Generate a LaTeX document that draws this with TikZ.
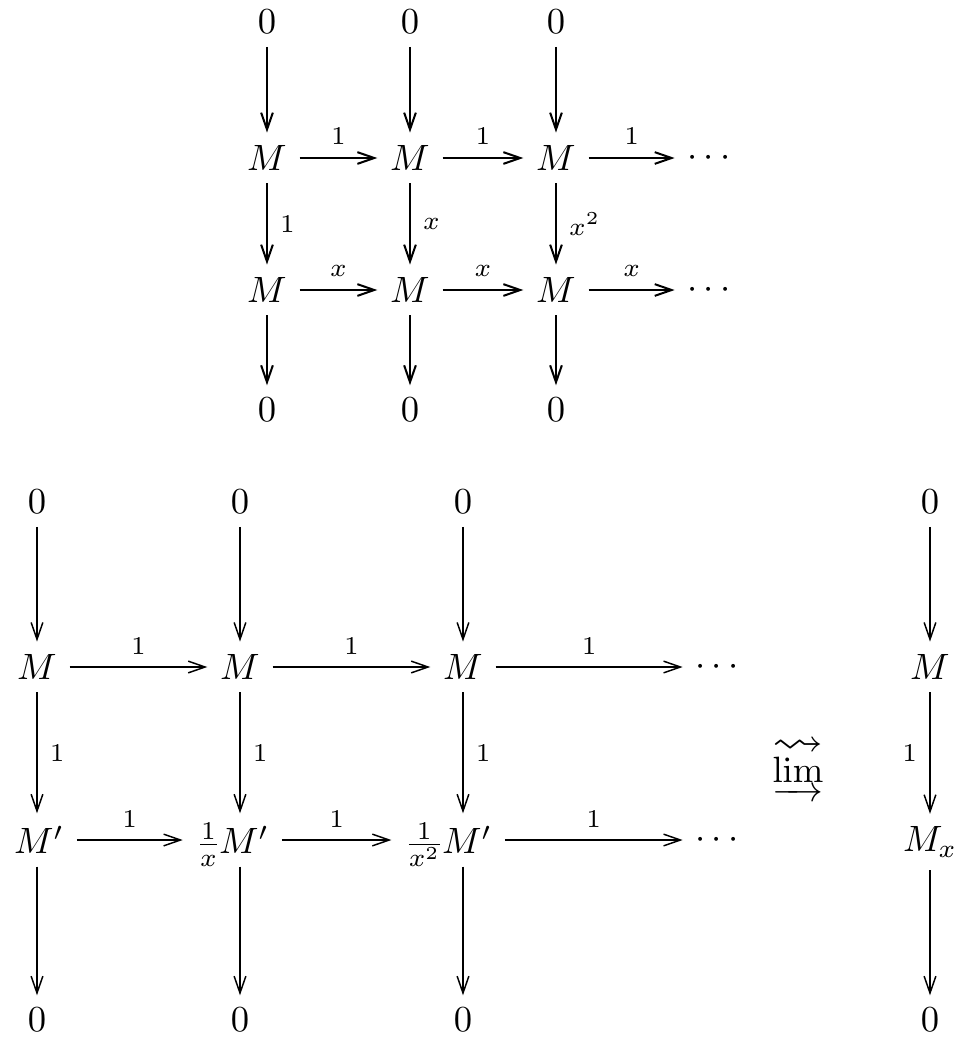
\documentclass[tikz,border=0pt]{standalone}
\usepackage{amsmath}
\usepackage{amssymb}
\usetikzlibrary{arrows.meta, positioning}

\tikzset{
  mapto/.style={-{Straight Barb[length=4.6pt,width=3.2pt]}},
  topmap/.style={mapto, line width=0.55pt},
  botmap/.style={mapto, line width=0.4pt},
  lbl/.style={font=\scriptsize}
}

\begin{document}
\begin{tikzpicture}[x=0.273pt,y=-0.273pt]
\useasboundingbox (0,0) rectangle (962,1042);

% Upper diagram: multiplication by powers of x
\foreach \n/\x in {1/267,2/410,3/556} {
    \node (t0\n) at (\x,22) {$0$};
    \node (ta\n) at (\x,158) {$M$};
    \node (tb\n) at (\x,290) {$M$};
    \node (tz\n) at (\x,410) {$0$};
}
\node (ta4) at (712,158) {$\cdots$};
\node (tb4) at (712,290) {$\cdots$};

% horizontal maps
\foreach \i/\j in {1/2,2/3,3/4} {
    \draw[topmap] (ta\i) -- node[above,lbl] {$1$} (ta\j);
    \draw[topmap] (tb\i) -- node[above,lbl] {$x$} (tb\j);
}

% vertical maps
\foreach \n/\f in {1/1,2/x,3/x^2} {
    \draw[topmap] (t0\n) -- (ta\n);
    \draw[topmap] (ta\n) -- node[right,lbl] {$\f$} (tb\n);
    \draw[topmap] (tb\n) -- (tz\n);
}

% Lower diagram: the rescaled system
\foreach \n/\x in {1/37,2/240,3/463,5/930} {
    \node (b0\n) at (\x,502) {$0$};
    \node (ba\n) at (\x,667) {$M$};
    \node (bz\n) at (\x,1020) {$0$};
}
\node (ba4) at (720,667) {$\cdots$};
\node (bb1) at (39,840) {$M'$};
\node (bb2) at (244,840) {$M'$};
\node (bb3) at (467,840) {$M'$};
\node (bb4) at (720,840) {$\cdots$};
\node (bb5) at (930,842) {$M_x$};

% scalars in front of M'
\node[anchor=base east] (fb2) at ([xshift=7.6pt]bb2.base west) {$\frac{1}{x}$};
\node[anchor=base east] (fb3) at ([xshift=7.6pt]bb3.base west) {$\frac{1}{x^2}$};

% horizontal maps
\draw[botmap] (ba1) -- node[above,lbl] {$1$} (ba2);
\draw[botmap] (ba2) -- node[above,lbl] {$1$} (ba3);
\draw[botmap] (ba3) -- node[above,lbl] {$1$} (ba4);
\draw[botmap] (bb1.east) -- node[above,lbl] {$1$} (bb1.east -| fb2.west);
\draw[botmap] (bb2.east) -- node[above,lbl] {$1$} (bb2.east -| fb3.west);
\draw[botmap] (bb3.east) -- node[above,lbl] {$1$} (bb3.east -| bb4.west);

% vertical maps
\foreach \n in {1,2,3} {
    \draw[botmap] (b0\n) -- (ba\n);
    \draw[botmap] (ba\n) -- node[right,lbl] {$1$} (ba\n |- bb\n.north);
    \draw[botmap] (ba\n |- bb\n.south) -- (bz\n);
}
\draw[botmap] (b05) -- (ba5);
\draw[botmap] (ba5) -- node[left,lbl] {$1$} (ba5 |- bb5.north);
\draw[botmap] (ba5 |- bb5.south) -- (bz5);

% direct limit
\node (lim) at (798,777) {$\varinjlim$};
\node[inner sep=0pt] (squig) at (798,747)
  {\scalebox{1.4}[1.2]{$\rightsquigarrow$}};
\end{tikzpicture}
\end{document}
